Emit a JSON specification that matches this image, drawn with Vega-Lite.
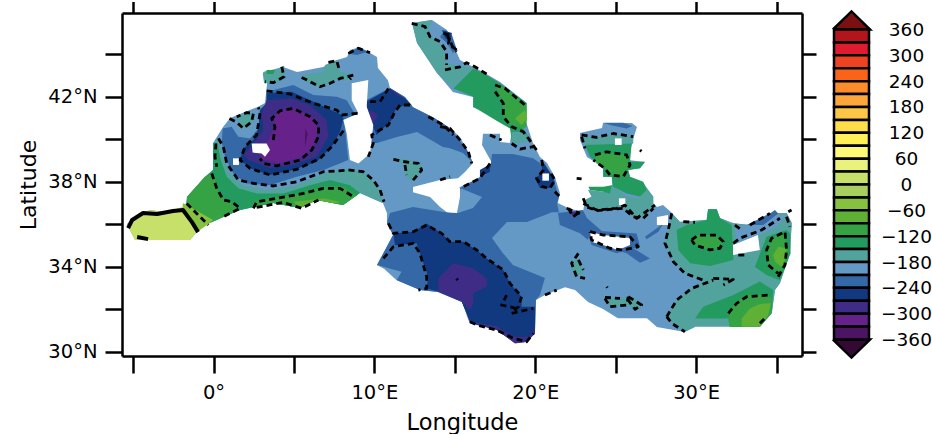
{"$schema":"https://vega.github.io/schema/vega-lite/v6.json","padding":{"left":17,"top":0,"right":0,"bottom":0},"background":"white","config":{"view":{"stroke":null},"font":"DejaVu Sans"},"bounds":"flush","spacing":32,"datasets":{
"regions":[
{"r":"b0","v":-195,"lon":[-5.38,-4.88,-3.95,-3.01,-1.77,-1.65,-0.53,-0.03,-0.03,0.59,1.03,2.70,3.20,3.33,3.08,4.32,5.19,6.81,7.68,8.30,8.48,9.10,10.16,10.22,10.84,10.97,11.90,12.40,13.64,14.70,15.32,15.76,16.13,15.63,15.20,14.08,12.40,12.40,13.46,14.08,14.51,15.13,15.32,15.32,16.25,17.18,17.31,16.69,16.75,17.81,17.81,18.43,18.55,17.62,16.13,16.13,14.88,13.89,12.65,12.34,13.58,14.51,15.32,16.75,17.81,19.48,19.24,19.86,20.29,20.73,21.22,21.53,21.41,22.03,22.96,23.09,23.52,23.28,24.21,24.77,24.77,24.21,24.21,23.21,22.78,22.78,24.15,24.21,26.01,26.32,26.07,25.76,26.82,26.51,25.76,25.89,26.69,27.32,27.32,27.56,27.94,28.50,28.99,30.67,30.73,31.29,31.48,32.29,33.34,34.59,35.64,35.95,35.83,35.21,34.90,34.71,33.96,32.10,31.98,29.93,29.93,29.30,27.56,26.94,25.14,24.21,23.28,22.47,21.85,20.60,20.04,19.98,19.48,18.74,17.62,15.94,15.44,13.95,12.83,11.40,11.16,10.16,11.16,10.78,10.78,10.53,9.10,8.05,6.43,5.38,3.70,1.65,0.59,0.22,-0.84,-1.03,-1.46,-4.88],"lat":[36.01,36.34,36.67,36.57,36.81,37.28,38.22,38.55,39.82,40.57,41.0,41.51,41.70,42.64,43.16,43.40,43.16,43.40,43.73,43.87,44.20,44.34,43.87,43.35,42.78,42.41,41.99,41.51,41.04,40.53,40.10,39.49,38.88,38.46,38.17,38.08,37.75,37.51,37.28,36.81,36.57,36.53,37.28,37.75,38.08,38.55,38.88,39.73,40.26,40.26,39.87,39.82,40.43,41.04,41.51,41.99,42.22,43.12,44.53,45.47,45.61,45.14,43.73,43.16,42.69,41.70,41.23,39.82,39.16,38.88,38.22,37.47,37.0,36.76,36.57,37.14,37.28,37.61,37.51,37.84,38.22,38.22,38.69,39.16,39.96,40.29,40.53,40.76,40.76,40.57,39.96,39.02,38.93,38.64,38.55,38.22,37.98,37.28,37.0,36.81,36.90,36.53,36.10,36.20,36.71,36.71,36.29,36.06,35.96,36.53,36.53,36.06,34.64,33.23,32.90,31.82,31.16,31.16,31.58,31.58,31.16,30.93,31.16,31.58,31.58,32.01,32.34,32.90,33.04,32.67,32.43,30.88,30.46,30.41,31.02,31.40,32.34,32.81,32.90,33.37,33.84,34.08,35.49,36.06,36.53,37.0,37.47,36.90,37.14,36.76,37.0,36.67,36.34,36.20,35.87,35.63,35.26,35.26]},
{"r":"w1","v":-165,"lon":[0.30,0.61,1.03,1.86,3.30,5.17,6.83,8.48,9.52,10.35,10.5,9.10,8.05,6.43,5.38,3.70,1.65,0.59,-0.84,-1.65,-1.65,-0.53,-0.03,-0.03],"lat":[39.96,39.18,38.39,37.84,37.61,37.84,38.39,38.63,38.39,37.61,37.0,37.47,36.90,37.14,36.76,37.0,36.67,36.34,35.87,35.9,37.28,38.22,38.55,39.82]},
{"r":"w2","v":-135,"lon":[-0.03,0.24,0.45,0.82,1.54,2.68,4.34,6.0,7.24,8.48,9.10,8.05,6.43,5.38,3.70,1.65,0.59,-0.84,-1.65,-1.65,-0.53,-0.03],"lat":[39.82,39.80,39.02,38.24,37.69,37.45,37.45,37.84,38.08,37.84,37.47,36.90,37.14,36.76,37.0,36.67,36.34,35.87,35.9,37.28,38.22,38.55]},
{"r":"w3","v":-105,"lon":[-1.65,-0.54,-0.01,0.40,1.03,1.65,0.59,-0.84,-1.65],"lat":[37.28,38.24,38.39,37.30,37.06,36.75,36.34,35.87,35.9]},
{"r":"w4","v":-105,"lon":[2.48,5.17,6.83,8.07,8.9,8.05,6.43,5.38,3.70,2.48],"lat":[37.06,37.45,37.77,37.77,37.35,36.90,37.14,36.76,37.0,36.83]},
{"r":"w5","v":-75,"lon":[4.96,6.0,6.83,7.86,7.6,6.43,5.38],"lat":[37.06,37.14,37.22,37.06,36.98,37.14,36.76]},
{"r":"a1","v":-45,"lon":[-1.9,-0.03,-0.40,-1.03,-1.96],"lat":[37.0,36.2,35.96,35.63,36.57]},
{"r":"a2","v":15,"lon":[-5.38,-4.88,-3.95,-3.01,-1.96,-1.03,-1.46,-4.88],"lat":[36.01,36.34,36.67,36.57,36.81,35.63,35.26,35.26]},
{"r":"n1","v":-225,"lon":[3.30,4.96,6.2,7.66,8.28,8.69,9.07,8.11,8.2,8.38,6.83,5.17,3.51,2.06,1.23,0.71,0.51,0.57,1.13,1.54,2.27,2.79,2.89,3.30],"lat":[42.24,42.55,42.08,42.0,41.84,41.30,41.14,40.93,40.27,39.02,38.55,38.24,37.84,37.92,38.39,39.18,39.88,40.51,40.59,40.12,40.04,40.51,41.37,41.69]},
{"r":"n2","v":-255,"lon":[3.30,4.86,6.0,7.97,8.07,7.86,7.35,6.41,4.96,3.51,2.27,1.65,1.86,2.48,2.79,2.89,3.30],"lat":[42.16,42.24,41.84,41.14,40.98,40.35,39.65,38.94,38.55,38.32,38.63,39.02,39.57,39.96,40.51,41.37,41.69]},
{"r":"n3","v":-285,"lon":[3.30,4.86,6.0,7.03,7.14,6.41,4.96,3.51,2.17,1.86,2.48,3.10,2.99],"lat":[41.84,41.92,41.61,40.90,40.12,39.18,38.79,38.63,39.02,39.26,39.80,40.43,41.22]},
{"r":"n4","v":-315,"lon":[3.72,4.13,5.17,6.2,6.52,6.2,5.58,4.13,3.10,2.89,3.51,3.82],"lat":[40.98,41.37,41.45,40.98,40.43,39.65,39.18,38.86,39.02,39.18,40.12,40.59]},
{"r":"n5","v":-345,"lon":[5.69,5.85,5.69],"lat":[40.51,40.27,39.65]},
{"r":"g1","v":-165,"lon":[1.44,2.48,2.58,2.06,1.65],"lat":[41.06,41.22,40.90,40.51,40.67]},
{"r":"g2","v":-165,"lon":[3.06,3.30,3.82,4.38,4.44,4.34,3.72,3.14],"lat":[43.10,43.22,43.26,43.46,43.18,42.79,42.63,42.63]},
{"r":"g3","v":-135,"lon":[3.30,3.82,3.72,3.30],"lat":[43.26,43.26,43.07,43.07]},
{"r":"g4","v":-165,"lon":[5.48,6.83,6.93,7.66,7.86,8.59,8.38,7.66,6.62,5.79],"lat":[43.02,43.18,43.49,43.73,43.18,43.07,42.79,42.79,42.44,42.71]},
{"r":"g5","v":-225,"lon":[8.32,9.0,9.62,8.9],"lat":[44.04,44.32,44.12,43.96]},
{"r":"t1","v":-225,"lon":[9.48,10.97,11.90,12.40,13.64,14.70,15.76,16.13,15.51,14.70,14.26,12.65,11.40,10.16,9.73,9.91,9.54],"lat":[41.84,42.41,41.99,41.51,41.04,40.53,39.49,38.88,39.35,39.58,39.63,40.34,40.10,39.82,39.82,40.67,41.51]},
{"r":"t2","v":-255,"lon":[9.52,10.97,11.9,12.32,11.38,11.07,10.14,9.93,9.52],"lat":[41.77,42.39,41.92,41.61,41.53,40.90,40.20,40.59,41.06]},
{"r":"t3","v":-285,"lon":[9.73,10.25,9.93,9.62],"lat":[41.37,41.14,40.75,41.06]},
{"r":"t4","v":-285,"lon":[10.97,11.9,11.38],"lat":[42.39,41.92,42.08]},
{"r":"t5","v":-165,"lon":[11.18,12.21,12.94,12.83,12.32,11.9,11.8],"lat":[39.10,39.02,38.86,38.39,38.0,38.32,38.79]},
{"r":"t6","v":-255,"lon":[16.56,17.31,17.18,16.56],"lat":[38.55,38.88,38.45,38.22]},
{"r":"i1","v":-225,"lon":[17.31,18.61,19.86,20.29,21.10,21.47,21.35,21.47,21.04,19.48,18.24,17.31,17.99,18.61,20.60,20.29,20.04,19.98,19.48,18.74,17.62,15.94,15.44,13.95,12.83,11.40,11.16,10.16,11.16,10.78,10.97,12.40,14.70,15.20,16.13,16.69,15.32,17.18],"lat":[39.30,39.30,39.11,38.88,38.22,37.28,37.0,36.57,36.57,36.10,36.10,35.35,34.64,34.08,33.47,32.67,32.43,30.88,30.46,30.41,31.02,31.40,32.34,32.81,32.90,33.37,33.84,34.08,35.49,36.06,36.53,36.81,36.53,36.53,36.76,37.28,37.7,38.45]},
{"r":"i2","v":-195,"lon":[10.14,11.28,11.69,11.38,10.6],"lat":[34.08,33.85,33.77,33.37,33.9]},
{"r":"i3","v":-255,"lon":[11.18,12.42,13.25,14.18,14.70,15.53,16.36,16.98,18.01,18.43,19.15,19.15,19.98,19.98,19.46,18.74,17.60,15.94,15.42,13.97,13.25,13.35,12.83,12.63,11.28],"lat":[35.57,35.65,36.04,35.57,35.18,35.18,34.79,34.39,33.85,33.22,32.59,32.12,32.12,30.86,30.47,30.55,31.18,31.41,32.36,32.83,32.98,33.53,34.63,35.10,35.02]},
{"r":"i4","v":-285,"lon":[13.97,14.91,16.15,16.98,16.98,16.15,16.15,15.94,15.42,13.97],"lat":[33.45,34.16,33.92,33.45,33.06,32.75,32.28,31.96,32.36,32.83]},
{"r":"i5","v":-285,"lon":[15.63,15.94,17.60,18.74,19.67,19.88,19.98,19.46,18.74,17.60,15.94],"lat":[31.88,31.41,31.18,30.71,30.71,31.10,30.86,30.47,30.39,31.02,31.34]},
{"r":"e1","v":-225,"lon":[21.41,22.96,23.21,24.21,23.40,23.28,22.78,21.53],"lat":[36.53,36.67,36.29,35.63,35.63,35.26,35.58,35.96]},
{"r":"e2","v":-225,"lon":[23.19,26.30,26.51,25.06,23.50],"lat":[35.73,35.57,34.94,34.63,35.02]},
{"r":"e3","v":-225,"lon":[25.06,26.09,27.13,26.51,25.68],"lat":[34.79,34.87,34.39,34.19,34.63]},
{"r":"e4","v":-225,"lon":[26.82,27.96,27.65,26.92],"lat":[35.41,36.04,35.65,35.29]},
{"r":"e5","v":-285,"lon":[22.16,22.78,22.36],"lat":[36.59,36.59,36.35]},
{"r":"e6","v":-255,"lon":[20.42,21.10,21.22,20.91,20.29,19.98,20.42],"lat":[39.02,38.22,37.98,37.70,37.70,38.17,38.41]},
{"r":"d1","v":-165,"lon":[12.34,13.58,13.33,14.26,14.51,16.13,14.88,13.89,12.65],"lat":[45.47,45.61,45.0,44.34,43.58,43.35,42.41,43.12,44.53]},
{"r":"d2","v":-135,"lon":[14.91,16.15,16.77,17.81,19.46,19.46,19.26,19.67,18.53,18.43,17.70,16.15,16.15],"lat":[42.39,43.33,43.10,42.63,41.69,40.90,40.51,39.96,39.96,40.51,40.82,41.53,42.0]},
{"r":"d3","v":-165,"lon":[18.53,19.26,19.77,18.53],"lat":[40.35,40.35,39.88,39.80]},
{"r":"d4","v":-105,"lon":[17.5,18.12,19.46,19.46,19.26,18.32,18.01,18.01],"lat":[42.63,42.39,41.61,40.59,40.51,40.75,41.06,41.69]},
{"r":"d5","v":-75,"lon":[18.74,19.36,19.5,19.15],"lat":[40.98,41.37,40.98,40.67]},
{"r":"d6","v":-225,"lon":[14.08,14.39,14.82,15.13,14.88,14.51],"lat":[44.81,45.14,44.9,44.2,44.06,44.53]},
{"r":"d7","v":-255,"lon":[14.2,14.82,14.7,14.39],"lat":[45.14,45.0,44.57,44.76]},
{"r":"s1","v":-225,"lon":[24.23,25.47,26.05,25.68,24.64],"lat":[40.78,40.78,40.62,40.51,40.67]},
{"r":"s2","v":-165,"lon":[22.88,24.23,24.85,26.09,26.09,25.26,23.19],"lat":[40.12,40.12,40.27,40.12,39.80,39.65,39.65]},
{"r":"s3","v":-165,"lon":[23.09,23.50,23.30,24.23,24.75,25.68,26.51,26.71,27.34,27.34,26.71,26.09,25.47,23.81,23.19],"lat":[37.14,37.30,37.61,37.53,37.84,37.30,37.22,37.92,37.30,36.90,36.28,36.35,36.75,36.64,36.82]},
{"r":"s4","v":-135,"lon":[23.09,25.99,25.89,26.82,26.51,25.78,25.89,26.71,26.92,26.51,25.68,24.85,24.75,24.23,24.23,23.40],"lat":[39.73,39.80,38.94,38.94,38.63,38.55,38.24,38.0,37.61,37.30,37.45,37.77,38.24,38.24,38.71,39.18]},
{"r":"s5","v":-105,"lon":[23.71,24.44,25.68,25.89,25.47,24.64,24.33,23.81],"lat":[39.26,39.41,39.26,38.79,38.24,38.32,38.63,38.86]},
{"r":"s6","v":-135,"lon":[23.30,24.23,24.75,24.64,24.23,23.40],"lat":[37.77,37.77,37.84,37.45,37.53,37.61]},
{"r":"l1","v":-165,"lon":[28.48,28.99,30.65,30.75,31.27,31.48,32.31,33.34,34.59,35.62,35.93,35.83,35.21,34.9,34.69,33.96,29.93,29.30,28.48,28.17,28.79,29.72,30.44,29.30,28.58,28.06,28.27],"lat":[36.51,36.12,36.2,36.70,36.70,36.28,36.04,35.96,36.51,36.51,36.04,34.63,33.22,32.90,31.81,31.18,31.18,30.94,31.34,31.65,32.43,32.98,33.30,33.69,34.24,35.10,35.73]},
{"r":"l2","v":-195,"lon":[32.41,33.34,34.59,35.62,35.0,34.17,32.52],"lat":[35.88,35.96,36.43,36.43,35.88,35.57,35.10]},
{"r":"l3","v":-225,"lon":[33.14,34.59,34.9,35.1,34.17],"lat":[35.96,36.51,36.67,36.51,35.96]},
{"r":"l4","v":-135,"lon":[28.79,29.41,30.65,30.75,31.27,31.48,32.2,32.31,32.31,30.86,29.62,28.89],"lat":[35.73,35.96,36.2,36.70,36.70,36.28,35.96,34.63,34.32,34.03,34.16,34.79]},
{"r":"l5","v":-105,"lon":[29.72,30.13,31.27,31.69,31.48,30.86,29.93],"lat":[35.26,35.49,35.49,35.18,34.87,34.79,35.02]},
{"r":"l6","v":-135,"lon":[33.65,34.38,35.62,35.83,35.87,35.21,34.38],"lat":[34.0,35.41,35.73,35.57,34.63,33.37,33.61]},
{"r":"l7","v":-105,"lon":[34.38,34.59,35.42,35.73,35.52,35.10,34.48],"lat":[34.79,35.26,35.65,34.79,34.0,33.69,34.16]},
{"r":"l8","v":-75,"lon":[34.79,35.1,35.62,35.52,35.31,34.9],"lat":[34.55,34.94,34.87,34.32,34.0,34.24]},
{"r":"l9","v":-135,"lon":[29.93,30.44,32.31,33.96,34.79,34.69,33.96,32.10,32.0],"lat":[31.57,32.12,32.67,33.30,32.90,31.81,31.18,31.18,31.57]},
{"r":"l10","v":-105,"lon":[32.0,32.31,33.14,34.38,34.69,34.65,33.96,32.10],"lat":[31.57,32.2,32.67,32.72,32.51,31.81,31.18,31.18]},
{"r":"l11","v":-75,"lon":[32.83,33.34,33.96,34.65,34.48,33.96,32.83],"lat":[31.57,32.04,32.25,32.28,31.73,31.18,31.18]},
{"r":"l12","v":-165,"lon":[22.16,22.78,22.99,22.47,22.26],"lat":[34.24,34.39,33.69,33.53,33.85]},
{"r":"l13","v":-165,"lon":[24.23,25.27,26.09,26.61,26.30,25.68,24.64],"lat":[32.59,32.51,32.59,32.2,31.96,32.2,32.12]}
],
"land":[
{"r":"sardinia","lon":[8.59,9.62,9.52,9.93,9.73,9.0,8.48,8.28,8.07,9.0,8.59],"lat":[42.63,42.79,41.53,40.67,39.33,38.86,39.02,40.27,40.90,41.22,41.84]},
{"r":"mallorca","lon":[2.37,3.30,3.51,3.20,2.99,2.43],"lat":[39.80,39.80,39.49,39.18,39.33,39.37]},
{"r":"ibiza","lon":[1.21,1.58,1.58,1.21],"lat":[39.10,39.10,38.79,38.79]},
{"r":"crete","lon":[23.40,24.21,25.89,25.89,25.14,24.21,23.52],"lat":[35.63,35.49,35.35,35.02,34.79,35.02,35.16]},
{"r":"cyprus","lon":[32.29,33.84,33.96,32.29],"lat":[35.02,35.49,34.79,34.55]},
{"r":"rhodes","lon":[27.56,28.25,28.25,27.56],"lat":[36.34,36.43,35.96,35.96]},
{"r":"lesbos","lon":[24.95,25.37,25.37,24.95],"lat":[40.04,40.04,39.73,39.73]},
{"r":"naxos","lon":[25.2,25.6,25.6,25.2],"lat":[37.22,37.22,36.90,36.90]},
{"r":"corfu","lon":[20.44,20.85,20.85,20.44],"lat":[38.39,38.39,38.05,38.05]}
],
"contours":[
{"c":"c1","lon":[-0.11,0.20,0.61,1.13,1.65,0.61],"lat":[38.39,37.69,37.14,37.06,36.75,36.35]},
{"c":"c1b","lon":[2.48,2.68,3.93,5.58,6.83,7.86,8.69],"lat":[36.75,37.06,37.22,37.45,37.69,37.69,37.30]},
{"c":"c1c","lon":[-1.67,-1.05,-0.32],"lat":[36.98,36.51,35.96]},
{"c":"c1d","lon":[2.68,4.34,5.48,6.52],"lat":[36.79,37.03,36.75,37.14]},
{"c":"c1e","lon":[0.15,0.09,0.20],"lat":[39.80,39.18,38.71]},
{"c":"c2","lon":[0.30,0.61,0.82,1.54,2.48,3.72,5.17,6.83,8.48,9.31,9.93,10.35,10.6],"lat":[40.04,39.65,38.86,38.08,37.92,37.80,38.0,38.47,38.55,38.47,38.08,37.61,37.06]},
{"c":"c3","lon":[3.30,4.75,6.2,7.66,7.97,9.0],"lat":[42.28,42.13,41.69,41.37,41.14,41.22]},
{"c":"c3b","lon":[8.07,7.35,6.62,5.17,3.51,2.27,1.65,1.96,2.68,2.89,2.79],"lat":[40.40,39.65,39.10,38.58,38.32,38.63,39.02,39.65,40.20,41.22,41.5]},
{"c":"c4","lon":[3.72,3.82,3.62,4.13,4.96,6.0,6.52,6.52,6.1,5.38,3.93,3.10,2.89],"lat":[39.96,40.59,40.98,41.33,41.45,41.06,40.67,40.12,39.49,39.02,38.75,38.86,39.10]},
{"c":"c5","lon":[0.99,1.40,1.86,2.37,2.48,2.06,1.44],"lat":[40.98,40.82,40.51,40.82,41.22,41.25,41.06]},
{"c":"c6","lon":[4.24,4.38,3.72,3.20],"lat":[43.41,42.94,42.66,42.71]},
{"c":"c7","lon":[5.48,6.0,6.62,7.24,7.86,8.69,8.48],"lat":[42.91,42.71,42.47,42.63,42.86,43.02,42.82]},
{"c":"c8","lon":[7.14,7.66,7.82],"lat":[43.62,43.70,43.26]},
{"c":"c9","lon":[8.38,9.0,9.73],"lat":[44.04,44.28,44.07]},
{"c":"c10","lon":[9.73,10.35,10.87],"lat":[41.77,41.77,42.39]},
{"c":"c11","lon":[12.21,11.59,11.28,10.87,9.83,9.93,9.62],"lat":[41.61,41.61,41.30,40.67,40.20,39.80,39.18]},
{"c":"c12","lon":[13.35,14.29,14.9],"lat":[41.06,40.67,40.20]},
{"c":"c13","lon":[11.18,11.9,12.73,12.94,12.32],"lat":[39.05,38.94,38.86,38.55,38.0]},
{"c":"c14","lon":[11.9,12.0],"lat":[38.79,38.32]},
{"c":"c15","lon":[12.32,13.15,13.46,14.08,14.49,14.49],"lat":[45.45,45.30,44.82,44.59,44.12,43.49]},
{"c":"c16","lon":[14.29,14.7,14.6,15.11],"lat":[44.98,44.9,44.51,44.2]},
{"c":"c17","lon":[14.39,15.32,15.73,16.25,17.18],"lat":[43.26,43.41,43.6,43.41,42.97]},
{"c":"c19","lon":[14.49,14.91,15.11],"lat":[44.98,44.28,44.12]},
{"c":"c20","lon":[17.5,18.12,18.74,19.36],"lat":[42.55,42.39,42.0,41.61]},
{"c":"c21","lon":[17.5,18.01,18.01,18.53,19.26,19.57,20.08],"lat":[42.24,41.69,41.06,40.59,40.35,40.04,39.49]},
{"c":"c22","lon":[18.53,19.05,19.88],"lat":[39.80,39.54,39.65]},
{"c":"c23","lon":[17.18,17.91],"lat":[40.2,39.96]},
{"c":"c24","lon":[14.08,14.7,15.32,15.84,16.05],"lat":[40.59,40.51,39.96,39.41,38.86]},
{"c":"c25","lon":[17.18,16.56,15.32],"lat":[38.86,38.16,37.69]},
{"c":"c26","lon":[14.08,14.7],"lat":[38.08,38.24]},
{"c":"c27","lon":[20.4,20.5,20.08,20.4,20.91,21.22,20.91],"lat":[39.02,38.55,38.16,37.77,37.69,38.08,38.47]},
{"c":"c28","lon":[21.22,21.53],"lat":[37.53,37.30]},
{"c":"c29","lon":[22.88,23.81,24.85,26.09],"lat":[40.2,40.09,40.27,40.12]},
{"c":"c30","lon":[22.88,23.09],"lat":[40.12,39.57]},
{"c":"c31","lon":[23.71,24.44,25.68,25.89,25.47,24.64,24.33,23.61],"lat":[39.26,39.41,39.26,38.79,38.24,38.32,38.63,39.02]},
{"c":"c32","lon":[22.98,23.19,23.81,25.47,26.09,26.71,27.34],"lat":[37.22,36.82,36.64,36.75,36.35,36.28,36.75]},
{"c":"c33","lon":[22.05,22.36,22.78],"lat":[36.75,36.35,36.59]},
{"c":"c34","lon":[22.57,22.88],"lat":[38.16,38.13]},
{"c":"c34b","lon":[26.51,26.6],"lat":[39.49,39.43]},
{"c":"c35","lon":[23.40,24.23,25.89,26.40,25.47,24.64,23.50,23.40],"lat":[35.65,35.49,35.41,34.94,34.79,34.87,35.26,35.65]},
{"c":"c36","lon":[28.48,28.27,28.06,28.58,29.30,30.44],"lat":[36.51,35.73,35.10,34.24,33.69,33.37]},
{"c":"c37","lon":[31.06,32.31,31.69],"lat":[33.45,33.41,33.14]},
{"c":"c38","lon":[28.17,28.79,29.72,31.06],"lat":[31.65,32.43,32.98,33.37]},
{"c":"c39","lon":[28.17,28.48,29.30],"lat":[31.65,31.34,30.94]},
{"c":"c40","lon":[29.72,30.13,31.27,31.69,31.48,30.86,29.93,29.72],"lat":[35.26,35.49,35.49,35.18,34.87,34.79,35.02,35.26]},
{"c":"c41","lon":[35.1,35.52,35.62,35.52,34.69,34.38,34.48,35.1],"lat":[33.53,34.08,34.79,35.65,35.34,34.79,34.08,33.69]},
{"c":"c42","lon":[32.31,32.72,34.07,35.21],"lat":[35.10,35.34,35.73,36.28]},
{"c":"c43","lon":[33.34,34.59],"lat":[35.96,36.51]},
{"c":"c44","lon":[35.62,35.83],"lat":[36.35,35.88]},
{"c":"c44b","lon":[35.93,35.73],"lat":[36.67,36.59]},
{"c":"c45","lon":[32.41,32.83],"lat":[35.96,35.73]},
{"c":"c46","lon":[29.2,29.93],"lat":[36.12,36.09]},
{"c":"c47","lon":[32.62,33.24],"lat":[34.55,34.55]},
{"c":"c48","lon":[32.0,32.52,33.14,34.59],"lat":[31.81,32.28,32.59,32.67]},
{"c":"c49","lon":[33.96,34.38],"lat":[31.34,31.65]},
{"c":"c50","lon":[10.56,11.18,12.42,12.83,13.25,13.25,12.73],"lat":[34.39,34.94,35.10,34.63,33.53,32.98,32.90]},
{"c":"c51","lon":[10.87,11.18,12.42,13.25,14.18,14.70,15.53,16.36,16.98,18.01,18.43,19.15,18.95,18.53,19.88],"lat":[36.04,35.57,35.65,35.96,35.57,35.18,35.18,34.79,34.39,33.85,33.22,32.59,32.12,31.81,32.04]},
{"c":"c52","lon":[18.22,17.91,18.84],"lat":[32.67,32.2,32.04]},
{"c":"c53","lon":[20.60,21.33],"lat":[32.67,32.90]},
{"c":"c54","lon":[15.94,16.36,17.60,18.64,19.46,19.88],"lat":[31.41,31.26,31.02,30.63,30.47,30.86]},
{"c":"c55","lon":[15.11,15.18],"lat":[33.45,33.37]},
{"c":"c56","lon":[21.95,22.78],"lat":[36.75,36.51]},
{"c":"c57","lon":[22.99,23.81,25.06,25.58,26.30,27.44],"lat":[36.98,36.67,36.75,36.90,36.28,36.90]},
{"c":"c58","lon":[22.68,22.26,22.57,23.09],"lat":[34.63,34.16,33.53,33.45]},
{"c":"c59","lon":[22.68,22.99],"lat":[34.32,33.85]},
{"c":"c60","lon":[24.44,24.48],"lat":[33.06,33.01]},
{"c":"c61","lon":[24.33,24.64,25.68,25.78],"lat":[32.51,32.12,32.2,32.59]},
{"c":"c62","lon":[25.78,26.61,26.2,25.78],"lat":[32.59,32.2,32.0,32.43]},
{"c":"c63","lon":[24.33,25.27],"lat":[32.56,32.51]}
],
"zero":[
{"c":"z1","lon":[-5.31,-5.06,-4.38,-3.51,-2.52,-1.9,-1.34,-0.96],"lat":[35.82,36.2,36.53,36.48,36.62,36.67,36.1,35.63]},
{"c":"z2","lon":[-4.75,-4.07],"lat":[35.4,35.3]}
],
"bar":[
{"v":345,"lo":330,"hi":360},{"v":315,"lo":300,"hi":330},{"v":285,"lo":270,"hi":300},{"v":255,"lo":240,"hi":270},{"v":225,"lo":210,"hi":240},{"v":195,"lo":180,"hi":210},{"v":165,"lo":150,"hi":180},{"v":135,"lo":120,"hi":150},{"v":105,"lo":90,"hi":120},{"v":75,"lo":60,"hi":90},{"v":45,"lo":30,"hi":60},{"v":15,"lo":0,"hi":30},{"v":-15,"lo":-30,"hi":0},{"v":-45,"lo":-60,"hi":-30},{"v":-75,"lo":-90,"hi":-60},{"v":-105,"lo":-120,"hi":-90},{"v":-135,"lo":-150,"hi":-120},{"v":-165,"lo":-180,"hi":-150},{"v":-195,"lo":-210,"hi":-180},{"v":-225,"lo":-240,"hi":-210},{"v":-255,"lo":-270,"hi":-240},{"v":-285,"lo":-300,"hi":-270},{"v":-315,"lo":-330,"hi":-300},{"v":-345,"lo":-360,"hi":-330}
],
"tips":[
{"t":"high","v":390,"p":[-0.03,0.5,1.03,-0.03],"q":[360,402,360,360]},
{"t":"low","v":-390,"p":[-0.03,0.5,1.03,-0.03],"q":[-360,-402,-360,-360]}
]},
"hconcat":[
{"width":680,"height":343,"resolve":{"axis":{"x":"independent","y":"independent"}},"layer":[
{"data":{"name":"regions"},"transform":[{"flatten":["lon","lat"]},{"window":[{"op":"row_number","as":"i"}]}],"mark":{"type":"line","strokeWidth":0,"interpolate":"linear"},"encoding":{
"x":{"field":"lon","type":"quantitative","scale":{"domain":[-5.69,36.58],"nice":false,"zero":false},"axis":{"orient":"bottom","title":"Longitude","titleFont":"DejaVu Sans","titleFontSize":22.5,"titleFontWeight":"normal","titleColor":"#000","titlePadding":10,"values":[-5,0,5,10,15,20,25,30,35],"labelExpr":"datum.value%10==0 ? (datum.value==0 ? '0°' : datum.value+'°E') : ''","labelFont":"DejaVu Sans","labelFontSize":19.5,"labelColor":"#000","labelPadding":10,"tickSize":17,"tickWidth":2.5,"tickColor":"#000","domainWidth":2.5,"domainColor":"#000","grid":false,"labelFlush":false,"labelOverlap":false}},
"y":{"field":"lat","type":"quantitative","scale":{"domain":[29.8,45.94],"nice":false,"zero":false},"axis":{"orient":"left","title":"Latitude","titleFont":"DejaVu Sans","titleFontSize":22,"titleFontWeight":"normal","titleColor":"#000","titlePadding":7.5,"values":[30,32,34,36,38,40,42,44],"labelExpr":"(datum.value-30)%4==0 ? datum.value+'°N' : ''","labelFont":"DejaVu Sans","labelFontSize":19.5,"labelColor":"#000","labelPadding":8,"tickSize":17,"tickWidth":2.5,"tickColor":"#000","domainWidth":2.5,"domainColor":"#000","grid":false,"labelOverlap":false}},
"order":{"field":"i","type":"quantitative"},"detail":{"field":"r","type":"nominal"},
"fill":{"field":"v","type":"ordinal","legend":null,"scale":{"domain":[390,345,315,285,255,225,195,165,135,105,75,45,15,-15,-45,-75,-105,-135,-165,-195,-225,-255,-285,-315,-345,-390],"range":["#7b1010","#b2161c","#e01b2f","#ee4322","#f9641a","#fb8b2b","#fca63b","#fdc646","#fedd4b","#fff057","#fffa75","#e9f27a","#c6e06a","#a8d05e","#86c140","#5fb135","#35a244","#239b5e","#52a29e","#6499c6","#3568a6","#103980","#3e2c86","#66228a","#4b1563","#340a35"]}}}},
{"data":{"name":"land"},"transform":[{"flatten":["lon","lat"]},{"window":[{"op":"row_number","as":"i"}]}],"mark":{"type":"line","fill":"#ffffff","strokeWidth":0},"encoding":{
"x":{"field":"lon","type":"quantitative","scale":{"domain":[-5.69,36.58],"nice":false,"zero":false},"axis":{"orient":"top","title":null,"labels":false,"values":[-5,0,5,10,15,20,25,30,35],"tickSize":11.5,"tickWidth":2.5,"tickColor":"#000","domainWidth":2.5,"domainColor":"#000","grid":false}},
"y":{"field":"lat","type":"quantitative","scale":{"domain":[29.8,45.94],"nice":false,"zero":false},"axis":{"orient":"right","title":null,"labels":false,"values":[30,32,34,36,38,40,42,44],"tickSize":14,"tickWidth":2.5,"tickColor":"#000","domainWidth":2.5,"domainColor":"#000","grid":false}},
"order":{"field":"i","type":"quantitative"},"detail":{"field":"r","type":"nominal"}}},
{"data":{"name":"contours"},"transform":[{"flatten":["lon","lat"]},{"window":[{"op":"row_number","as":"i"}]}],"mark":{"type":"line","stroke":"#000","strokeWidth":2.8,"strokeDash":[6,4],"strokeJoin":"round"},"encoding":{
"x":{"field":"lon","type":"quantitative","scale":{"domain":[-5.69,36.58],"nice":false,"zero":false},"axis":null},
"y":{"field":"lat","type":"quantitative","scale":{"domain":[29.8,45.94],"nice":false,"zero":false},"axis":null},
"order":{"field":"i","type":"quantitative"},"detail":{"field":"c","type":"nominal"}}},
{"data":{"name":"zero"},"transform":[{"flatten":["lon","lat"]},{"window":[{"op":"row_number","as":"i"}]}],"mark":{"type":"line","stroke":"#000","strokeWidth":4,"strokeJoin":"round"},"encoding":{
"x":{"field":"lon","type":"quantitative","scale":{"domain":[-5.69,36.58],"nice":false,"zero":false},"axis":null},
"y":{"field":"lat","type":"quantitative","scale":{"domain":[29.8,45.94],"nice":false,"zero":false},"axis":null},
"order":{"field":"i","type":"quantitative"},"detail":{"field":"c","type":"nominal"}}}
]},
{"width":35,"height":343,"resolve":{"axis":{"y":"independent"}},"layer":[
{"data":{"name":"tips"},"transform":[{"flatten":["p","q"]},{"window":[{"op":"row_number","as":"i"}]}],"mark":{"type":"line","stroke":"#000","strokeWidth":2.5,"strokeJoin":"miter"},"encoding":{
"x":{"field":"p","type":"quantitative","scale":{"domain":[0,1],"nice":false,"zero":false},"axis":null},
"y":{"field":"q","type":"quantitative","scale":{"domain":[-398.3,398.3],"nice":false,"zero":false},"axis":null},
"order":{"field":"i","type":"quantitative"},"detail":{"field":"t","type":"nominal"},
"fill":{"field":"v","type":"ordinal","legend":null,"scale":{"domain":[390,345,315,285,255,225,195,165,135,105,75,45,15,-15,-45,-75,-105,-135,-165,-195,-225,-255,-285,-315,-345,-390],"range":["#7b1010","#b2161c","#e01b2f","#ee4322","#f9641a","#fb8b2b","#fca63b","#fdc646","#fedd4b","#fff057","#fffa75","#e9f27a","#c6e06a","#a8d05e","#86c140","#5fb135","#35a244","#239b5e","#52a29e","#6499c6","#3568a6","#103980","#3e2c86","#66228a","#4b1563","#340a35"]}}}},
{"data":{"name":"bar"},"mark":{"type":"rect","stroke":"#000","strokeWidth":2.5},"encoding":{
"y":{"field":"lo","type":"quantitative","scale":{"domain":[-398.3,398.3],"nice":false,"zero":false},"axis":{"orient":"right","title":null,"domain":false,"ticks":false,"grid":false,"values":[360,300,240,180,120,60,0,-60,-120,-180,-240,-300,-360],"labelExpr":"datum.value<0 ? '−'+abs(datum.value) : ''+datum.value","labelFont":"DejaVu Sans","labelFontSize":18.5,"labelColor":"#000","labelAlign":"center","labelPadding":37,"labelOverlap":false,"labelFlush":false}},
"y2":{"field":"hi"},
"fill":{"field":"v","type":"ordinal","legend":null,"scale":{"domain":[390,345,315,285,255,225,195,165,135,105,75,45,15,-15,-45,-75,-105,-135,-165,-195,-225,-255,-285,-315,-345,-390],"range":["#7b1010","#b2161c","#e01b2f","#ee4322","#f9641a","#fb8b2b","#fca63b","#fdc646","#fedd4b","#fff057","#fffa75","#e9f27a","#c6e06a","#a8d05e","#86c140","#5fb135","#35a244","#239b5e","#52a29e","#6499c6","#3568a6","#103980","#3e2c86","#66228a","#4b1563","#340a35"]}}}}
]}
]}
